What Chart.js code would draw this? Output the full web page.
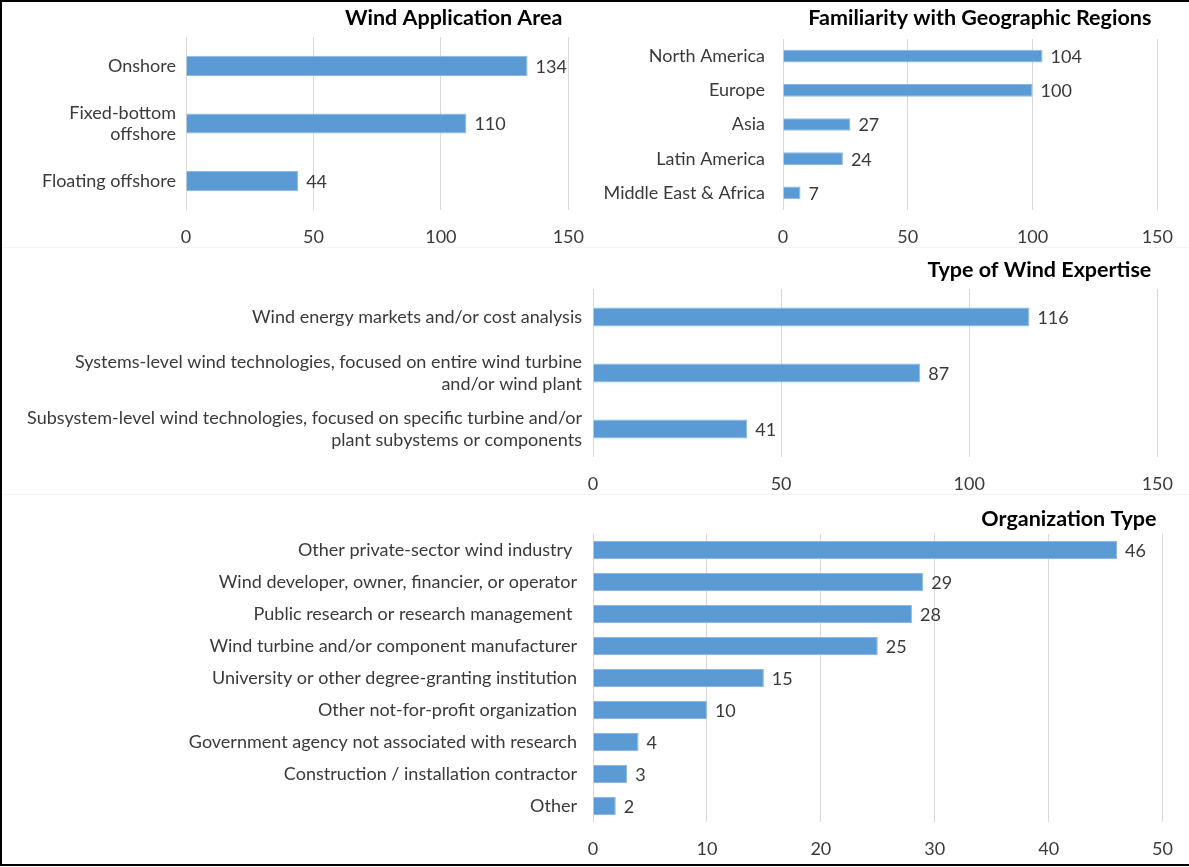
<!DOCTYPE html>
<html>
<head>
<meta charset="utf-8">
<script src="https://cdn.jsdelivr.net/npm/chart.js@4.4.1/dist/chart.umd.min.js"></script>
<style>
  html, body { margin: 0; padding: 0; background: #fff; }
  #page { position: relative; width: 1189px; height: 867px; overflow: hidden; }
  canvas { position: absolute; }
  .line { position: absolute; background: #000; }
  .sep { position: absolute; left: 2px; width: 1187px; height: 1px; background: #f4f4f4; }
</style>
</head>
<body>
<div id="page">
  <canvas id="appChart" width="600" height="247" style="left:0;top:0"></canvas>
  <canvas id="regionChart" width="589" height="247" style="left:600px;top:0"></canvas>
  <canvas id="expertiseChart" width="1189" height="247" style="left:0;top:247px"></canvas>
  <canvas id="orgChart" width="1189" height="373" style="left:0;top:494px"></canvas>
  <div class="sep" style="top:247px"></div>
  <div class="sep" style="top:494px"></div>
  <div class="line" style="left:0;top:0;width:1189px;height:2px"></div>
  <div class="line" style="left:0;top:0;width:2px;height:866px"></div>
  <div class="line" style="left:0;top:864px;width:1189px;height:2px"></div>
</div>
<script>
// wind application area
const appLabels = ["Onshore", ["Fixed-bottom", "offshore"], "Floating offshore"];
const appValues = [134, 110, 44];
const appTicks = [0, 50, 100, 150];

// geographic regions
const regionLabels = ["North America", "Europe", "Asia", "Latin America", "Middle East & Africa"];
const regionValues = [104, 100, 27, 24, 7];
const regionTicks = [0, 50, 100, 150];

// type of expertise
const expertiseLabels = [
  "Wind energy markets and/or cost analysis",
  ["Systems-level wind technologies, focused on entire wind turbine", "and/or wind plant"],
  ["Subsystem-level wind technologies, focused on specific turbine and/or", "plant subystems or components"]
];
const expertiseValues = [116, 87, 41];
const expertiseTicks = [0, 50, 100, 150];

// organization type
const orgLabels = [
  "Other private-sector wind industry ",
  "Wind developer, owner, financier, or operator",
  "Public research or research management ",
  "Wind turbine and/or component manufacturer",
  "University or other degree-granting institution",
  "Other not-for-profit organization",
  "Government agency not associated with research",
  "Construction / installation contractor",
  "Other"
];
const orgValues = [46, 29, 28, 25, 15, 10, 4, 3, 2];
const orgTicks = [0, 10, 20, 30, 40, 50];

const FONT = "Lato";
const TEXT = "#3a3a3a";
const BAR = "#5b9bd5";
const GRID = "#d9d9d9";

// draws the title and the numbers at the end of the bars
const extras = {
  id: "extras",
  afterDraw(chart, args, opts) {
    const ctx = chart.ctx;
    const area = chart.chartArea;
    ctx.save();
    ctx.fillStyle = "#000";
    ctx.font = "bold 21.5px " + FONT;
    ctx.textAlign = "right";
    ctx.textBaseline = "middle";
    ctx.fillText(opts.title, area.right - 6, opts.titleY);

    ctx.fillStyle = TEXT;
    ctx.font = "18px " + FONT;
    ctx.textAlign = "left";
    const meta = chart.getDatasetMeta(0);
    meta.data.forEach((bar, i) => {
      ctx.fillText(chart.data.datasets[0].data[i], bar.x + 8, bar.y + 1);
    });
    ctx.restore();
  }
};

function makeChart(id, labels, values, ticks, title, g) {
  const step = ticks[1] - ticks[0];
  return new Chart(document.getElementById(id), {
    type: "bar",
    data: {
      labels: labels,
      datasets: [{
        data: values,
        backgroundColor: BAR,
        borderColor: "#8db8e2",
        borderWidth: 1,
        barPercentage: g.bar,
        categoryPercentage: 1
      }]
    },
    options: {
      indexAxis: "y",
      responsive: false,
      animation: false,
      layout: { padding: { left: 0, top: g.top, right: g.w - g.right, bottom: 0 } },
      plugins: {
        legend: { display: false },
        tooltip: { enabled: false },
        extras: { title: title, titleY: g.titleY }
      },
      scales: {
        x: {
          min: ticks[0],
          max: ticks[ticks.length - 1],
          ticks: { stepSize: step, color: TEXT, font: { family: FONT, size: 18 }, padding: g.tickPad },
          grid: { color: GRID, drawTicks: false },
          border: { display: false },
          afterFit: (s) => { s.height = g.h - g.bottom; }
        },
        y: {
          ticks: { color: TEXT, font: { family: FONT, size: 18 }, padding: g.labelPad },
          grid: { display: false, drawTicks: false },
          border: { display: false },
          afterFit: (s) => { s.width = g.left; }
        }
      }
    },
    plugins: [extras]
  });
}

makeChart("appChart", appLabels, appValues, appTicks, "Wind Application Area",
  { w: 600, h: 247, left: 186, right: 572, top: 37, bottom: 210, bar: 0.35, labelPad: 10, tickPad: 16, titleY: 18 });
makeChart("regionChart", regionLabels, regionValues, regionTicks, "Familiarity with Geographic Regions",
  { w: 589, h: 247, left: 183, right: 565, top: 39, bottom: 210, bar: 0.37, labelPad: 18, tickPad: 16, titleY: 18 });
makeChart("expertiseChart", expertiseLabels, expertiseValues, expertiseTicks, "Type of Wind Expertise",
  { w: 1189, h: 247, left: 593, right: 1162, top: 42, bottom: 210, bar: 0.34, labelPad: 11, tickPad: 16, titleY: 23 });
makeChart("orgChart", orgLabels, orgValues, orgTicks, "Organization Type",
  { w: 1189, h: 373, left: 593, right: 1164, top: 40, bottom: 328, bar: 0.56, labelPad: 16, tickPad: 16, titleY: 25 });
</script>
</body>
</html>
